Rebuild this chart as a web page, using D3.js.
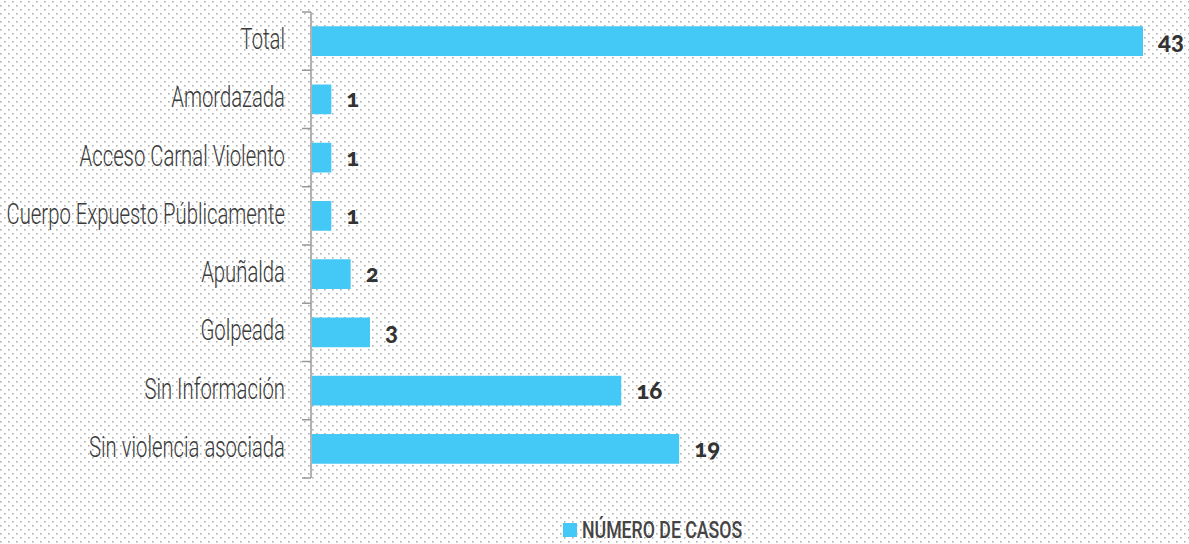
<!DOCTYPE html>
<html>
<head>
    <meta charset="utf-8">
    <script src="https://d3js.org/d3.v7.min.js"></script>
    <style>
        body { margin: 0; background: #fff; }
    </style>
</head>
<body>
    <svg id="svg" width="1189" height="544"></svg>
    <script>
        // data
        const categories = ["Total", "Amordazada", "Acceso Carnal Violento", "Cuerpo Expuesto Públicamente",
            "Apuñalda", "Golpeada", "Sin Información", "Sin violencia asociada"];
        const casos = [43, 1, 1, 1, 2, 3, 16, 19];
        const seriesName = "NÚMERO DE CASOS";

        const svg = d3.select("#svg"),
            width = 1189,
            height = 544,
            margin = { top: 12, right: 46, bottom: 66, left: 311 },
            narrow = 0.7; // horizontal squeeze to mimic the condensed face

        // dotted background
        const defs = svg.append("defs");
        const pat = defs.append("pattern").attr("id", "dots").attr("width", 8).attr("height", 8)
            .attr("patternUnits", "userSpaceOnUse");
        pat.append("rect").attr("x", 4).attr("y", 1).attr("width", 1.6).attr("height", 1.6).attr("fill", "#b0b0b0");
        pat.append("rect").attr("x", 0).attr("y", 5).attr("width", 1.6).attr("height", 1.6).attr("fill", "#b0b0b0");
        svg.append("rect").attr("width", width).attr("height", height).attr("fill", "#fff");
        svg.append("rect").attr("width", width).attr("height", height).attr("fill", "url(#dots)");

        const x = d3.scaleLinear().domain([0, 43]).range([margin.left + 1, 1143]);
        const y = d3.scaleBand().domain(categories).range([margin.top, height - margin.bottom])
            .paddingInner(0.49).paddingOuter(0.245);

        // bars
        svg.append("g").selectAll("rect").data(categories).join("rect")
            .attr("x", x(0))
            .attr("y", d => y(d))
            .attr("width", (d, i) => x(casos[i]) - x(0))
            .attr("height", y.bandwidth())
            .attr("fill", "#44c8f5");

        // value labels (old-style figures, like the reference)
        svg.append("g").selectAll("text").data(categories).join("text")
            .attr("x", (d, i) => x(casos[i]) + 15)
            .attr("y", d => y(d) + y.bandwidth() / 2 + 8)
            .attr("font-family", "Lato, sans-serif")
            .attr("font-weight", 900)
            .attr("font-size", 24)
            .style("font-variant-numeric", "oldstyle-nums")
            .attr("fill", "#333")
            .text((d, i) => casos[i]);

        // category axis
        const yAxis = svg.append("g").attr("transform", "translate(" + margin.left + ",0)");
        yAxis.append("line").attr("x1", 0).attr("x2", 0)
            .attr("y1", margin.top).attr("y2", height - margin.bottom)
            .attr("stroke", "#999").attr("stroke-width", 1.5);
        const edges = categories.map(d => y(d) - y.step() * y.paddingInner() / 2);
        edges.push(height - margin.bottom);
        yAxis.selectAll("line.tick").data(edges).join("line").attr("class", "tick")
            .attr("x1", -9).attr("x2", 0).attr("y1", d => d).attr("y2", d => d)
            .attr("stroke", "#999").attr("stroke-width", 1.5);
        yAxis.selectAll("g.lab").data(categories).join("g").attr("class", "lab")
            .attr("transform", d => "translate(-26," + (y(d) + y.bandwidth() / 2 + 8) + ") scale(" + narrow + ",1)")
            .append("text")
            .attr("text-anchor", "end")
            .attr("font-family", "Roboto, sans-serif")
            .attr("font-weight", 300)
            .attr("font-size", 29)
            .attr("fill", "#3a3a3a")
            .text(d => d);

        // legend
        const leg = svg.append("g").attr("transform", "translate(563,523)");
        leg.append("rect").attr("width", 14).attr("height", 14).attr("fill", "#44c8f5");
        leg.append("g").attr("transform", "translate(19,15) scale(0.77,1)")
            .append("text")
            .attr("font-family", "Roboto, sans-serif")
            .attr("font-weight", 500)
            .attr("font-size", 23)
            .attr("fill", "#444")
            .text(seriesName);
    </script>
</body>
</html>
